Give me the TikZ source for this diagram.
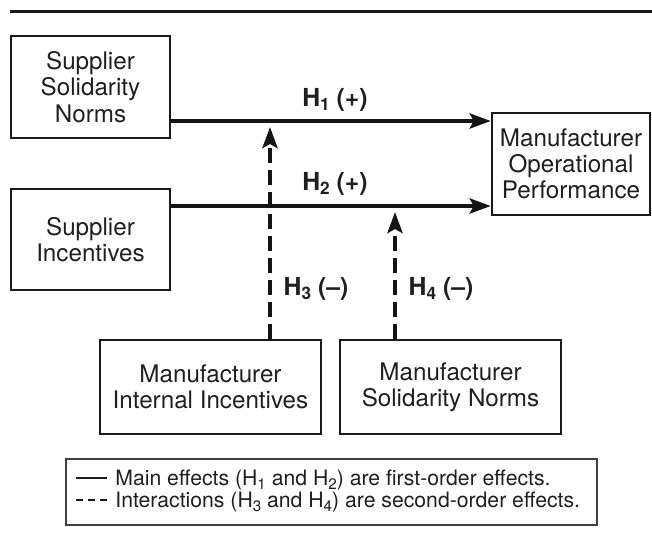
\documentclass[tikz,border=0pt]{standalone}
\usepackage{fontspec}
\setmainfont{TeX Gyre Heros}
\usetikzlibrary{arrows.meta}
\newcommand{\lsub}[1]{\raisebox{-2.2pt}{\fontsize{8.6}{9}\selectfont #1}}
\newcommand{\gsub}[1]{\raisebox{-2pt}{\fontsize{7.6}{8}\selectfont #1}}
\begin{document}
\begin{tikzpicture}[x=0.5pt,y=-0.5pt,
  box/.style={draw=black!90, line width=1.2pt, align=center, inner sep=0pt,
    font=\fontsize{12.1}{13.1}\selectfont, text=black!88},
  tipstyle/.style={-{Stealth[length=10.5pt,width=7.5pt,inset=2pt]}},
  mainarrow/.style={draw=black!92, line width=2pt, tipstyle},
  interarrow/.style={draw=black!92, line width=2.2pt, dash pattern=on 7.5pt off 3.5pt, tipstyle},
  hlabel/.style={font=\fontsize{12.4}{13}\selectfont\bfseries, text=black!88, inner sep=0pt},
  legtext/.style={font=\fontsize{10.6}{12}\selectfont, text=black!88, inner sep=0pt, anchor=base west}]
\useasboundingbox (0,0) rectangle (652,546);
% top rule
\draw[line width=1.5pt, black!90] (10,11) -- (652,11);
% boxes
\node[box, minimum width=79.5pt, minimum height=51pt] (ssn) at (90.5,87) {Supplier\\Solidarity\\Norms};
\node[box, minimum width=79.5pt, minimum height=50.5pt] (si) at (90.5,239.5) {Supplier\\Incentives};
\node[box, minimum width=79pt, minimum height=51pt] (mop) at (571,164) {Manufacturer\\Operational\\Performance};
\node[box, minimum width=110.5pt, minimum height=47pt] (mii) at (210.5,387) {Manufacturer\\Internal Incentives};
\node[box, minimum width=110.5pt, minimum height=47pt] (msn) at (450.5,387) {Manufacturer\\Solidarity Norms};
% helper coordinates
\coordinate (h1) at (0,121);
\coordinate (h2) at (0,206);
\coordinate (h3tip) at (270,127);
\coordinate (h4tip) at (395,212);
% main effects
\draw[mainarrow] (ssn.east |- h1) -- (mop.west |- h1);
\draw[mainarrow] (si.east |- h2) -- (mop.west |- h2);
% interactions
\draw[interarrow] (mii.north -| h3tip) -- (h3tip);
\draw[interarrow] (msn.north -| h4tip) -- (h4tip);
% labels
\node[hlabel] (l1) at (335,100) {H\lsub{1} (+)};
\node[hlabel] (l2) at (335,184) {H\lsub{2} (+)};
\node[hlabel] (l3) at (316,289) {H\lsub{3} (–)};
\node[hlabel] (l4) at (441,289) {H\lsub{4} (–)};
% legend
\node[draw=black!75, line width=0.6pt, minimum width=265.5pt, minimum height=33pt, inner sep=0pt] (legend) at (331.5,492) {};
\node[legtext] (leg1) at (115,485) {Main effects (H\gsub{1} and H\gsub{2}) are first-order effects.};
\node[legtext] (leg2) at (115,507) {Interactions (H\gsub{3} and H\gsub{4}) are second-order effects.};
\draw[line width=1.1pt, black!90] (76,478) -- (107,478);
\draw[line width=1.1pt, black!90, dash pattern=on 3.5pt off 2.5pt] (76,500) -- (107,500);
\end{tikzpicture}
\end{document}
